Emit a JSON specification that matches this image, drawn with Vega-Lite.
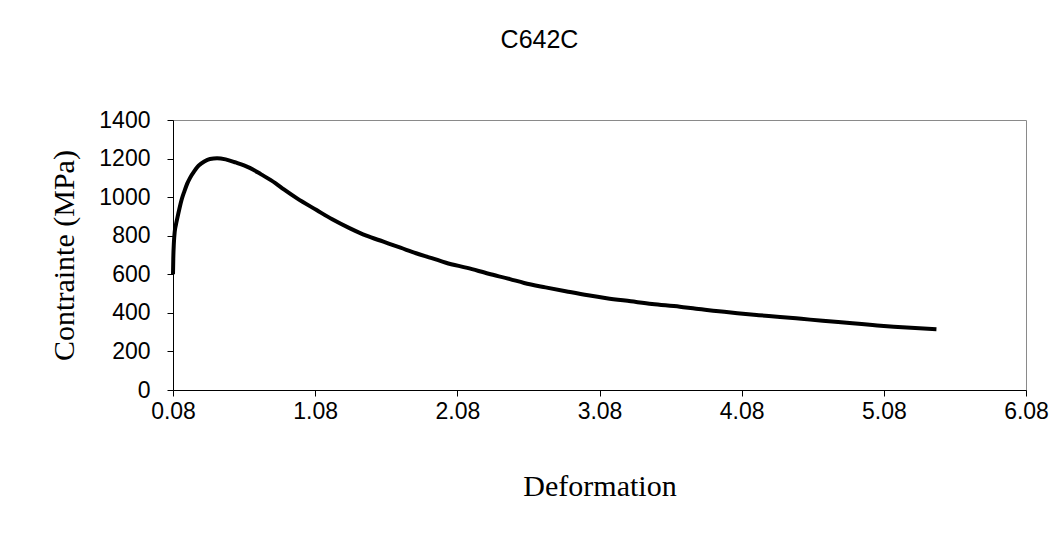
{
  "$schema": "https://vega.github.io/schema/vega-lite/v6.json",
  "autosize": {"type": "none"},
  "width": 853,
  "height": 270,
  "padding": {"left": 173, "top": 120, "right": 37, "bottom": 144},
  "background": "white",
  "title": {
    "text": "C642C",
    "font": "Liberation Sans",
    "fontSize": 25,
    "fontWeight": "normal",
    "color": "black",
    "anchor": "middle",
    "dx": -60,
    "offset": 56
  },
  "config": {
    "view": {"stroke": "#8a8a8a", "strokeWidth": 1},
    "axis": {"grid": false, "domainColor": "black", "tickColor": "black", "labelColor": "black", "titleColor": "black"}
  },
  "data": {
    "values": [
      {"deformation": 0.08, "contrainte": 600},
      {"deformation": 0.082, "contrainte": 680},
      {"deformation": 0.086, "contrainte": 760},
      {"deformation": 0.092, "contrainte": 820},
      {"deformation": 0.10, "contrainte": 855},
      {"deformation": 0.11, "contrainte": 890},
      {"deformation": 0.125, "contrainte": 940},
      {"deformation": 0.14, "contrainte": 985},
      {"deformation": 0.16, "contrainte": 1030},
      {"deformation": 0.18, "contrainte": 1070},
      {"deformation": 0.20, "contrainte": 1100},
      {"deformation": 0.23, "contrainte": 1135},
      {"deformation": 0.26, "contrainte": 1163},
      {"deformation": 0.30, "contrainte": 1185},
      {"deformation": 0.34, "contrainte": 1198},
      {"deformation": 0.39, "contrainte": 1202},
      {"deformation": 0.45, "contrainte": 1196},
      {"deformation": 0.52, "contrainte": 1180},
      {"deformation": 0.62, "contrainte": 1152},
      {"deformation": 0.70, "contrainte": 1118},
      {"deformation": 0.80, "contrainte": 1073},
      {"deformation": 0.86, "contrainte": 1040},
      {"deformation": 0.95, "contrainte": 995},
      {"deformation": 1.09, "contrainte": 933},
      {"deformation": 1.20, "contrainte": 885},
      {"deformation": 1.325, "contrainte": 838},
      {"deformation": 1.44, "contrainte": 800},
      {"deformation": 1.56, "contrainte": 769},
      {"deformation": 1.68, "contrainte": 738},
      {"deformation": 1.79, "contrainte": 709},
      {"deformation": 1.90, "contrainte": 684},
      {"deformation": 2.00, "contrainte": 660},
      {"deformation": 2.15, "contrainte": 633},
      {"deformation": 2.30, "contrainte": 603},
      {"deformation": 2.45, "contrainte": 575},
      {"deformation": 2.55, "contrainte": 555},
      {"deformation": 2.70, "contrainte": 532},
      {"deformation": 2.85, "contrainte": 511},
      {"deformation": 3.00, "contrainte": 491},
      {"deformation": 3.13, "contrainte": 476},
      {"deformation": 3.30, "contrainte": 460},
      {"deformation": 3.45, "contrainte": 446},
      {"deformation": 3.645, "contrainte": 432},
      {"deformation": 3.76, "contrainte": 421},
      {"deformation": 3.90, "contrainte": 410},
      {"deformation": 4.05, "contrainte": 398},
      {"deformation": 4.20, "contrainte": 388},
      {"deformation": 4.35, "contrainte": 379},
      {"deformation": 4.50, "contrainte": 369},
      {"deformation": 4.65, "contrainte": 359},
      {"deformation": 4.86, "contrainte": 346},
      {"deformation": 5.00, "contrainte": 337},
      {"deformation": 5.15, "contrainte": 328},
      {"deformation": 5.30, "contrainte": 321},
      {"deformation": 5.45, "contrainte": 315}
    ]
  },
  "mark": {"type": "line", "color": "black", "strokeWidth": 4, "interpolate": "monotone"},
  "encoding": {
    "x": {
      "field": "deformation",
      "type": "quantitative",
      "scale": {"domain": [0.08, 6.08], "nice": false, "zero": false},
      "axis": {
        "title": "Deformation",
        "values": [0.08, 1.08, 2.08, 3.08, 4.08, 5.08, 6.08],
        "format": ".2f",
        "labelFont": "Liberation Sans",
        "labelFontSize": 23,
        "labelFlush": false,
        "labelPadding": 4,
        "tickSize": 6,
        "titleFont": "Liberation Serif",
        "titleFontSize": 30,
        "titleFontWeight": "normal",
        "titlePadding": 48
      }
    },
    "y": {
      "field": "contrainte",
      "type": "quantitative",
      "scale": {"domain": [0, 1400], "nice": false},
      "axis": {
        "title": "Contrainte (MPa)",
        "values": [0, 200, 400, 600, 800, 1000, 1200, 1400],
        "format": "d",
        "labelFont": "Liberation Sans",
        "labelFontSize": 23,
        "labelFlush": false,
        "labelPadding": 17,
        "tickSize": 6,
        "titleFont": "Liberation Serif",
        "titleFontSize": 30,
        "titleFontWeight": "normal",
        "titlePadding": 19
      }
    }
  }
}
